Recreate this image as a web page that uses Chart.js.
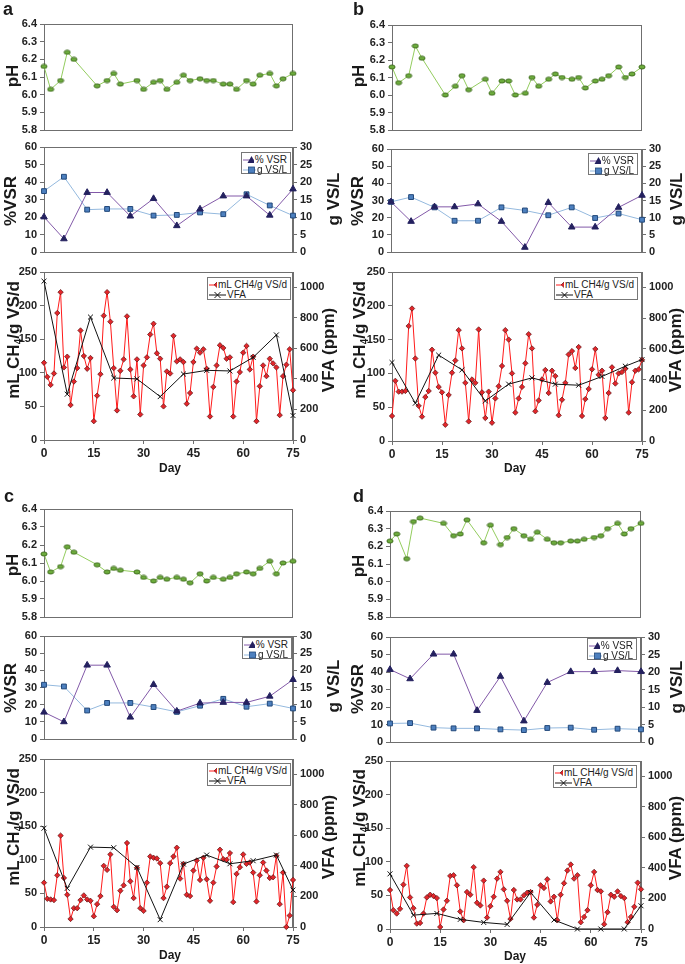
<!DOCTYPE html>
<html>
<head>
<meta charset="utf-8">
<script src="https://cdn.jsdelivr.net/npm/chart.js@4.4.0/dist/chart.umd.min.js"></script>
<style>
  body { margin: 0; background: #fff; font-family: Arial, "Liberation Sans", sans-serif; }
  #page { position: relative; width: 685px; height: 964px; overflow: hidden; }
  #page canvas { position: absolute; }
  .lbl { position: absolute; font-weight: bold; color: #1a1a1a; white-space: nowrap; line-height: 1; }
  .vt { transform: translate(-50%, -50%) rotate(-90deg); }
  .ct { transform: translate(-50%, -50%); }
  .letter { font-size: 18px; line-height: 18px; }
  .legend { position: absolute; border: 1px solid #777; background: #fff; font-size: 10px; color: #222; padding: 1px 3px 1px 1px; box-sizing: border-box; }
  .legend div { display: flex; align-items: center; height: 10px; white-space: nowrap; }
  .legend svg { margin-right: 1px; }
  sub { font-size: 10px; vertical-align: -3px; line-height: 0; }
</style>
</head>
<body>
<div id="page"></div>
<script>
// ---- data ----
const phDays = [0, 2, 5, 7, 9, 16, 19, 21, 23, 28, 30, 33, 35, 37, 40, 42, 44, 47, 49, 51, 54, 56, 58, 61, 63, 65, 68, 70, 72, 75];
const phA = [6.16, 6.03, 6.08, 6.24, 6.20, 6.05, 6.08, 6.12, 6.06, 6.08, 6.03, 6.07, 6.08, 6.03, 6.07, 6.11, 6.08, 6.09, 6.08, 6.08, 6.06, 6.06, 6.03, 6.08, 6.06, 6.11, 6.12, 6.05, 6.09, 6.12];
const phB = [6.16, 6.07, 6.11, 6.28, 6.21, 6.00, 6.05, 6.11, 6.03, 6.09, 6.01, 6.08, 6.08, 6.00, 6.01, 6.10, 6.05, 6.09, 6.12, 6.10, 6.09, 6.10, 6.04, 6.08, 6.09, 6.11, 6.16, 6.10, 6.12, 6.16];
const phC = [6.15, 6.05, 6.08, 6.19, 6.16, 6.09, 6.05, 6.07, 6.06, 6.05, 6.02, 6.00, 6.02, 6.01, 6.02, 6.01, 5.99, 6.04, 6.00, 6.02, 6.01, 6.02, 6.04, 6.05, 6.04, 6.07, 6.11, 6.04, 6.10, 6.11];
const phD = [6.23, 6.27, 6.13, 6.34, 6.36, 6.33, 6.26, 6.27, 6.35, 6.22, 6.32, 6.21, 6.25, 6.30, 6.26, 6.24, 6.28, 6.24, 6.22, 6.22, 6.23, 6.23, 6.24, 6.25, 6.26, 6.30, 6.33, 6.27, 6.30, 6.33];

const vsrDays = [0, 6, 13, 19, 26, 33, 40, 47, 54, 61, 68, 75];
const vsrA = [20, 7.5, 34, 34, 20.5, 30.5, 15, 24.5, 32, 32, 21, 36];
const gvsA = [17.4, 21.5, 12.1, 12.3, 12.3, 10.4, 10.6, 11.3, 10.8, 16.5, 13.3, 10.4];
const vsrB = [29.2, 17.8, 26.3, 26.3, 28, 17.8, 2.7, 28.8, 14.5, 14.5, 26, 33];
const gvsB = [14.6, 16, 13, 9.1, 9.1, 13, 12.1, 10.7, 13, 9.9, 11.2, 9.4];
const vsrC = [15.6, 10, 43, 43, 12.7, 31.7, 16.2, 20.9, 21.3, 21.3, 24.9, 34.6];
const gvsC = [15.8, 15.3, 8.3, 10.5, 10.5, 9.3, 7.9, 9.7, 11.7, 9.4, 10.3, 8.9];
const vsrD = [41.4, 36.1, 50.2, 50.2, 18, 37.5, 12, 34, 40.2, 40.2, 40.8, 40.2];
const gvsD = [5.3, 5.4, 4.1, 3.9, 3.9, 3.6, 3.4, 4.0, 4.1, 3.5, 3.8, 3.6];

const ch4Days = [0, 1, 2, 3, 4, 5, 6, 7, 8, 9, 10, 11, 12, 13, 14, 15, 16, 17, 18, 19,
  20, 21, 22, 23, 24, 25, 26, 27, 28, 29, 30, 31, 32, 33, 34, 35, 36, 37, 38, 39,
  40, 41, 42, 43, 44, 45, 46, 47, 48, 49, 50, 51, 52, 53, 54, 55, 56, 57, 58, 59,
  60, 61, 62, 63, 64, 65, 66, 67, 68, 69, 70, 71, 72, 73, 74, 75];
const ch4A = [115, 94, 82, 99, 189, 220, 108, 124, 52, 87, 107, 163, 125, 106, 122, 28, 66, 98, 185, 220,
  176, 107, 44, 103, 120, 184, 105, 65, 120, 38, 111, 123, 157, 173, 129, 121, 50, 102, 99, 155,
  117, 120, 116, 54, 70, 116, 136, 130, 135, 106, 35, 79, 111, 141, 137, 121, 123, 35, 87, 101,
  130, 140, 105, 124, 28, 80, 111, 95, 121, 114, 108, 37, 95, 112, 135, 74];
const ch4B = [37, 89, 73, 73, 74, 170, 196, 122, 52, 36, 65, 74, 135, 101, 80, 72, 24, 68, 101, 119,
  164, 137, 86, 29, 91, 86, 165, 72, 34, 73, 27, 63, 81, 111, 164, 150, 100, 42, 63, 80,
  115, 158, 137, 44, 60, 91, 105, 71, 104, 96, 38, 61, 86, 128, 133, 108, 139, 37, 62, 77,
  106, 136, 98, 104, 34, 71, 109, 85, 100, 102, 107, 42, 87, 104, 106, 120];
const ch4C = [66, 42, 41, 40, 77, 136, 73, 48, 12, 28, 28, 40, 47, 41, 39, 16, 34, 46, 91, 85,
  108, 30, 25, 54, 62, 125, 68, 43, 88, 28, 24, 66, 105, 103, 102, 95, 43, 60, 95, 105,
  118, 72, 94, 48, 46, 84, 99, 70, 103, 71, 39, 66, 90, 115, 101, 100, 110, 37, 79, 89,
  108, 94, 96, 81, 38, 77, 96, 84, 73, 74, 106, 34, 81, 0, 17, 70];
const ch4D = [58, 28, 23, 30, 66, 94, 47, 31, 8, 9, 23, 47, 51, 49, 46, 3, 29, 42, 79, 80,
  65, 26, 13, 55, 51, 92, 39, 35, 72, 17, 34, 48, 75, 85, 59, 42, 15, 58, 44, 44,
  50, 54, 55, 17, 36, 65, 61, 74, 41, 48, 13, 51, 68, 87, 96, 75, 80, 10, 18, 28,
  65, 85, 58, 56, 7, 25, 51, 48, 56, 49, 46, 10, 18, 33, 69, 59];

const vfaDays = [0, 7, 14, 21, 28, 35, 42, 49, 56, 63, 70, 75];
const vfaA = [1040, 300, 805, 406, 400, 284, 432, 456, 452, 541, 688, 160];
const vfaB = [511, 246, 559, 463, 261, 370, 411, 370, 363, 420, 487, 530];
const vfaC = [647, 253, 523, 519, 390, 48, 412, 471, 414, 434, 471, 242];
const vfaD = [361, 91, 102, 63, 43, 30, 239, 59, 0, 0, 0, 152];

const vfaTicks = [0, 200, 400, 600, 800, 1000];

// ---- look ----
const FONT = 'Arial, "Liberation Sans", sans-serif';
const AXIS = '#6f6f6f';
const tickFont = { family: FONT, size: 11, weight: 'bold' };
const page = document.getElementById('page');

const pts = (xs, ys) => xs.map((x, i) => ({ x: x, y: ys[i] }));

function ellipseMark() {
  const c = document.createElement('canvas');
  c.width = 8; c.height = 6;
  const g = c.getContext('2d');
  g.beginPath();
  g.ellipse(4, 3, 3.1, 2.1, 0, 0, Math.PI * 2);
  g.fillStyle = '#6cab3c';
  g.fill();
  g.lineWidth = 0.8;
  g.strokeStyle = '#355f17';
  g.stroke();
  return c;
}
const phMark = ellipseMark();

const frame = {
  id: 'frame',
  beforeDatasetsDraw(chart) {
    const a = chart.chartArea, ctx = chart.ctx;
    ctx.save();
    ctx.strokeStyle = AXIS;
    ctx.lineWidth = 1;
    ctx.strokeRect(Math.round(a.left) + 0.5, Math.round(a.top) + 0.5,
      Math.round(a.right - a.left) - 1, Math.round(a.bottom - a.top));
    ctx.restore();
  }
};

function canvasAt(col, top, bottom) {
  const c = document.createElement('canvas');
  c.width = col.w;
  c.height = bottom - top;
  c.style.left = col.x + 'px';
  c.style.top = top + 'px';
  page.appendChild(c);
  return c;
}

function yAxis(pos, min, max, step, width, fmt) {
  return {
    position: pos, min: min, max: max,
    afterFit: s => { s.width = width; },
    ticks: { stepSize: step, font: tickFont, color: '#222', padding: 3, callback: fmt },
    grid: { drawOnChartArea: false, drawTicks: true, tickLength: 4, color: AXIS },
    border: { color: AXIS }
  };
}

const hiddenX = { type: 'linear', min: 0, max: 75, display: false };
const baseOpts = { responsive: false, animation: false, events: [] };

function phChart(col, plot, values) {
  const cv = canvasAt(col, plot.t - 10, plot.b + 10);
  new Chart(cv, {
    type: 'line',
    data: { datasets: [{
      data: pts(phDays, values), borderColor: '#93cc5e', borderWidth: 1,
      pointStyle: phMark, pointRadius: 3, clip: 8
    }] },
    options: Object.assign({}, baseOpts, {
      layout: { padding: { left: 0, right: col.x + col.w - plot.r, top: 10, bottom: 10 } },
      plugins: { legend: { display: false }, tooltip: { enabled: false } },
      scales: {
        x: hiddenX,
        y: yAxis('left', 5.8, 6.4, 0.1, plot.l - col.x, v => v.toFixed(1))
      }
    }),
    plugins: [frame]
  });
}

function vsrChart(col, plot, vsr, gvs) {
  const cv = canvasAt(col, plot.t - 10, plot.b + 10);
  new Chart(cv, {
    type: 'line',
    data: { datasets: [
      { label: '% VSR', data: pts(vsrDays, vsr), yAxisID: 'y', borderColor: '#8259a8', borderWidth: 1,
        pointStyle: 'triangle', pointRadius: 3.8, backgroundColor: '#24215f', pointBorderColor: '#24215f', clip: 8 },
      { label: 'g VS/L', data: pts(vsrDays, gvs), yAxisID: 'y1', borderColor: '#94b9de', borderWidth: 1,
        pointStyle: 'rect', pointRadius: 3.4, backgroundColor: '#4d80bf', pointBorderColor: '#22487a', clip: 8 }
    ] },
    options: Object.assign({}, baseOpts, {
      layout: { padding: { left: 0, right: 0, top: 10, bottom: 10 } },
      plugins: { legend: { display: false }, tooltip: { enabled: false } },
      scales: {
        x: hiddenX,
        y: yAxis('left', 0, 60, 10, plot.l - col.x),
        y1: yAxis('right', 0, 30, 5, col.x + col.w - plot.r)
      }
    }),
    plugins: [frame]
  });
}

function ch4Chart(col, plot, ch4, vfa) {
  const cv = canvasAt(col, plot.t - 10, plot.b + 22);
  const right = yAxis('right', 0, 1100, 200, col.x + col.w - plot.r);
  right.afterBuildTicks = s => { s.ticks = vfaTicks.map(v => ({ value: v })); };
  new Chart(cv, {
    type: 'line',
    data: { datasets: [
      { label: 'mL CH4/g VS/d', data: pts(ch4Days, ch4), yAxisID: 'y', order: 1, borderColor: '#ff1a1a', borderWidth: 1,
        pointStyle: 'rectRot', pointRadius: 2.7, backgroundColor: '#e3262b', pointBorderColor: '#5c1111', pointBorderWidth: 0.7, clip: 8 },
      { label: 'VFA', data: pts(vfaDays, vfa), yAxisID: 'y1', order: 0, borderColor: '#111', borderWidth: 1,
        pointStyle: 'crossRot', pointRadius: 3.5, pointBorderColor: '#111', clip: 8 }
    ] },
    options: Object.assign({}, baseOpts, {
      layout: { padding: { left: 0, right: 0, top: 10, bottom: 0 } },
      plugins: { legend: { display: false }, tooltip: { enabled: false } },
      scales: {
        x: {
          type: 'linear', min: 0, max: 75,
          afterFit: s => { s.height = 22; },
          ticks: { stepSize: 15, font: { family: FONT, size: 12, weight: 'bold' }, color: '#222', padding: 2 },
          grid: { drawOnChartArea: false, drawTicks: true, tickLength: 4, color: AXIS },
          border: { color: AXIS }
        },
        y: yAxis('left', 0, 250, 50, plot.l - col.x),
        y1: right
      }
    }),
    plugins: [frame]
  });
}

// ---- html text ----
function label(html, cx, cy, size, vertical) {
  const d = document.createElement('div');
  d.className = 'lbl ' + (vertical ? 'vt' : 'ct');
  d.style.left = cx + 'px';
  d.style.top = cy + 'px';
  d.style.fontSize = size + 'px';
  d.innerHTML = html;
  page.appendChild(d);
}
function letter(t, x, y) {
  const d = document.createElement('div');
  d.className = 'lbl letter';
  d.style.left = x + 'px';
  d.style.top = y + 'px';
  d.textContent = t;
  page.appendChild(d);
}
const sym = {
  vsr: '<svg width="17" height="9"><line x1="0" y1="5" x2="17" y2="5" stroke="#8259a8"/><polygon points="8.5,1 12.5,8 4.5,8" fill="#24215f"/></svg>',
  gvs: '<svg width="17" height="9"><line x1="0" y1="5" x2="17" y2="5" stroke="#94b9de"/><rect x="5.5" y="2" width="6" height="6" fill="#4d80bf" stroke="#22487a" stroke-width="0.8"/></svg>',
  ch4: '<svg width="17" height="9"><line x1="0" y1="5" x2="17" y2="5" stroke="#ff1a1a"/><polygon points="8.5,1.5 11.8,4.8 8.5,8.1 5.2,4.8" fill="#e3262b" stroke="#5c1111" stroke-width="0.7"/></svg>',
  vfa: '<svg width="17" height="9"><line x1="0" y1="5" x2="17" y2="5" stroke="#111"/><path d="M5.5,2 L11.5,8 M11.5,2 L5.5,8" stroke="#111"/></svg>'
};
function legend(x, y, w, h, items) {
  const d = document.createElement('div');
  d.className = 'legend';
  d.style.left = x + 'px';
  d.style.top = y + 'px';
  d.style.width = w + 'px';
  d.style.height = h + 'px';
  d.innerHTML = items.map(it => '<div>' + sym[it[0]] + '<span>' + it[1] + '</span></div>').join('');
  page.appendChild(d);
}

// ---- panels ----
const colL = { x: 0, w: 340 };
const colR = { x: 340, w: 345 };

phChart(colL, { l: 44, t: 24, r: 293, b: 130 }, phA);
vsrChart(colL, { l: 44, t: 147, r: 293, b: 252 }, vsrA, gvsA);
ch4Chart(colL, { l: 44, t: 272, r: 293, b: 440 }, ch4A, vfaA);

phChart(colR, { l: 392, t: 25, r: 642, b: 130 }, phB);
vsrChart(colR, { l: 391, t: 149, r: 642, b: 252 }, vsrB, gvsB);
ch4Chart(colR, { l: 392, t: 272, r: 642, b: 441 }, ch4B, vfaB);

phChart(colL, { l: 44, t: 509, r: 293, b: 617 }, phC);
vsrChart(colL, { l: 44, t: 636, r: 293, b: 739 }, vsrC, gvsC);
ch4Chart(colL, { l: 44, t: 759, r: 293, b: 927 }, ch4C, vfaC);

phChart(colR, { l: 390, t: 511, r: 641, b: 617 }, phD);
vsrChart(colR, { l: 390, t: 637, r: 641, b: 742 }, vsrD, gvsD);
ch4Chart(colR, { l: 390, t: 761, r: 641, b: 929 }, ch4D, vfaD);

letter('a', 3, 0);
letter('b', 353, 0);
letter('c', 4, 487);
letter('d', 353, 487);

const ch4Title = 'mL CH<sub>4</sub>/g VS/d';
[[0, 0, 0], [340, 0, 1], [0, 487, 0], [340, 488, 1]].forEach(([ox, oy, r]) => {
  label('pH', ox + 12 + r * 6, oy + 76 + (oy ? 2 : 0), 17, true);
  label('%VSR', ox + 10 + r * 7, oy + 201, 17, true);
  label('g VS/L', ox + 333 + r * 3, oy + 199, 17, true);
  label(ch4Title, ox + 13 + r * 6, oy + 340, 17, true);
  label('VFA (ppm)', ox + 328 + r * 7, oy + 350, 17, true);
  label('Day', ox + 170 + r * 5, oy + 468, 12, false);
});

legend(241, 152, 50, 22, [['vsr', '% VSR'], ['gvs', 'g VS/L']]);
legend(588, 153, 50, 22, [['vsr', '% VSR'], ['gvs', 'g VS/L']]);
legend(242, 637, 50, 22, [['vsr', '% VSR'], ['gvs', 'g VS/L']]);
legend(587, 638, 50, 22, [['vsr', '% VSR'], ['gvs', 'g VS/L']]);
legend(207, 277, 84, 23, [['ch4', 'mL CH4/g VS/d'], ['vfa', 'VFA']]);
legend(554, 277, 84, 23, [['ch4', 'mL CH4/g VS/d'], ['vfa', 'VFA']]);
legend(207, 763, 84, 23, [['ch4', 'mL CH4/g VS/d'], ['vfa', 'VFA']]);
legend(553, 765, 84, 23, [['ch4', 'mL CH4/g VS/d'], ['vfa', 'VFA']]);
</script>
</body>
</html>
